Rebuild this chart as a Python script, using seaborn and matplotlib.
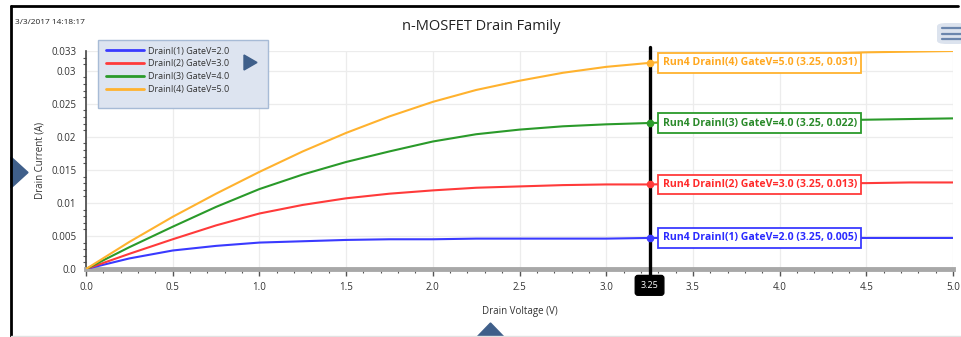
import matplotlib
matplotlib.use("Agg")
import matplotlib.pyplot as plt
from matplotlib.lines import Line2D
from matplotlib.patches import FancyBboxPatch, Polygon
from matplotlib.ticker import FixedLocator, MultipleLocator
import numpy as np
import pandas as pd
import seaborn as sns

# drain voltage sweep (V)
VOLTAGE = [0.0, 0.25, 0.5, 0.75, 1.0, 1.25, 1.5, 1.75, 2.0, 2.25, 2.5,
           2.75, 3.0, 3.25, 3.5, 3.75, 4.0, 4.25, 4.5, 4.75, 5.0]

# drain current (A) for each gate voltage
DRAIN_1 = [0.0, 0.0016, 0.0028, 0.0035, 0.0040, 0.0042, 0.0044, 0.0045, 0.0045, 0.0046, 0.0046,
           0.0046, 0.0046, 0.0047, 0.0047, 0.0047, 0.0047, 0.0047, 0.0047, 0.0047, 0.0047]
DRAIN_2 = [0.0, 0.0023, 0.0045, 0.0066, 0.0084, 0.0097, 0.0107, 0.0114, 0.0119, 0.0123, 0.0125,
           0.0127, 0.0128, 0.0128, 0.0129, 0.0129, 0.0130, 0.0130, 0.0130, 0.0131, 0.0131]
DRAIN_3 = [0.0, 0.0033, 0.0064, 0.0094, 0.0121, 0.0143, 0.0162, 0.0178, 0.0193, 0.0204, 0.0211,
           0.0216, 0.0219, 0.0221, 0.0222, 0.0223, 0.0224, 0.0225, 0.0226, 0.0227, 0.0228]
DRAIN_4 = [0.0, 0.0041, 0.0079, 0.0114, 0.0147, 0.0178, 0.0206, 0.0231, 0.0253, 0.0271, 0.0285,
           0.0297, 0.0306, 0.0312, 0.0317, 0.0321, 0.0324, 0.0326, 0.0328, 0.0329, 0.0330]

SERIES = ["DrainI(1) GateV=2.0", "DrainI(2) GateV=3.0",
          "DrainI(3) GateV=4.0", "DrainI(4) GateV=5.0"]
LINE_COLORS = ["#3a3aff", "#ff3a3a", "#2a9a2a", "#ffb22e"]
TEXT_COLORS = ["#2a2aff", "#ff2a2a", "#2a8a2a", "#ffa820"]

CURSOR_X = 3.25
X_TICKS = [0.0, 0.5, 1.0, 1.5, 2.0, 2.5, 3.0, 3.5, 4.0, 4.5, 5.0]
X_TICK_LABELS = ["0.0", "0.5", "1.0", "1.5", "2.0", "2.5", "3.0", "3.5", "4.0", "4.5", "5.0"]
Y_TICKS = [0.0, 0.005, 0.01, 0.015, 0.02, 0.025, 0.03, 0.033]
Y_TICK_LABELS = ["0.0", "0.005", "0.01", "0.015", "0.02", "0.025", "0.03", "0.033"]

W, H = 961, 337
FONT = ["Open Sans", "DejaVu Sans"]
UI_BLUE = "#3f5f8a"


def px(x, y):
    return (x / W, 1 - y / H)


def main() -> None:
    sns.set_theme(style="white")
    plt.rcParams["font.family"] = FONT

    df = pd.DataFrame({
        "voltage": VOLTAGE * 4,
        "current": DRAIN_1 + DRAIN_2 + DRAIN_3 + DRAIN_4,
        "series": sum([[s] * len(VOLTAGE) for s in SERIES], []),
    })
    palette = dict(zip(SERIES, LINE_COLORS))

    fig = plt.figure(figsize=(W / 100, H / 100), dpi=100)
    ax = fig.add_axes([86 / W, 1 - 269 / H, 867 / W, 218 / H])

    sns.lineplot(data=df, x="voltage", y="current", hue="series",
                 hue_order=SERIES, palette=palette, linewidth=1.5,
                 legend=False, ax=ax, zorder=3)

    ax.set_xlim(0, 5)
    ax.set_ylim(0, 0.033)
    ax.xaxis.set_major_locator(FixedLocator(X_TICKS))
    ax.set_xticklabels(X_TICK_LABELS)
    ax.xaxis.set_minor_locator(MultipleLocator(0.1))
    ax.yaxis.set_major_locator(FixedLocator(Y_TICKS))
    ax.set_yticklabels(Y_TICK_LABELS)
    ax.yaxis.set_minor_locator(MultipleLocator(0.001))
    ax.grid(True, which="major", color="#ececec", linewidth=0.9)
    ax.set_axisbelow(True)

    for side in ["top", "right"]:
        ax.spines[side].set_visible(False)
    ax.spines["left"].set_color("#444444")
    ax.spines["left"].set_linewidth(1.2)
    ax.spines["bottom"].set_color("#a8a8a8")
    ax.spines["bottom"].set_linewidth(3.5)

    ax.tick_params(axis="both", which="both", direction="out", colors="#555555",
                   labelcolor="#333333", labelsize=7)
    ax.tick_params(axis="y", which="major", length=5, width=1, pad=2)
    ax.tick_params(axis="y", which="minor", length=2.5, width=0.8, left=True)
    ax.tick_params(axis="x", which="major", length=5, width=1, pad=4, bottom=True)
    ax.tick_params(axis="x", which="minor", length=3, width=0.8, bottom=True)

    ax.set_xlabel("Drain Voltage (V)", fontsize=7, color="#333333", labelpad=10)
    ax.set_ylabel("Drain Current (A)", fontsize=7, color="#333333", labelpad=4)

    # cursor line, markers and readouts
    ax.axvline(CURSOR_X, color="black", linewidth=2.4, zorder=5,
               ymin=-0.08, ymax=1.02, clip_on=False)
    for name, series, lc, tc in zip(SERIES, [DRAIN_1, DRAIN_2, DRAIN_3, DRAIN_4],
                                    LINE_COLORS, TEXT_COLORS):
        val = float(np.interp(CURSOR_X, VOLTAGE, series))
        ax.plot([CURSOR_X], [val], marker="o", markersize=4.5, color=lc, zorder=6)
        ax.text(CURSOR_X + 0.075, val,
                f"Run4 {name} ({CURSOR_X:.2f}, {val:.3f})",
                color=tc, fontsize=7.6, fontweight="bold", va="center", ha="left",
                zorder=7,
                bbox=dict(boxstyle="square,pad=0.42", facecolor="white",
                          edgecolor=lc, linewidth=1.3))
    ax.text(CURSOR_X, -0.075, "3.25", transform=ax.get_xaxis_transform(),
            color="white", fontsize=6.5, ha="center", va="center", zorder=8,
            bbox=dict(boxstyle="round,pad=0.6,rounding_size=0.3",
                      facecolor="black", edgecolor="black"))

    # legend panel
    panel = FancyBboxPatch(px(98, 108), 170 / W, 68 / H, boxstyle="square,pad=0",
                           transform=fig.transFigure, facecolor="#dde4f0",
                           edgecolor="#a7bbd6", linewidth=1, zorder=10)
    fig.add_artist(panel)
    handles = [Line2D([], [], color=c, linewidth=2) for c in LINE_COLORS]
    leg = fig.legend(handles, SERIES, loc="upper left", bbox_to_anchor=px(102, 43),
                     frameon=False, fontsize=6.5, handlelength=4.2,
                     handletextpad=0.5, labelspacing=0.42, borderaxespad=0)
    leg.set_zorder(11)
    for t in leg.get_texts():
        t.set_color("#333333")
    fig.add_artist(Polygon([px(244, 55), px(244, 70), px(257, 62.5)],
                           closed=True, transform=fig.transFigure,
                           color=UI_BLUE, zorder=12))

    # surrounding widget chrome
    fig.text(*px(481, 27), "n-MOSFET Drain Family", ha="center", va="center",
             fontsize=10.5, color="#222222")
    fig.text(*px(15, 23), "3/3/2017 14:18:17", ha="left", va="center",
             fontsize=6, color="#222222")
    fig.add_artist(Line2D([11 / W, 11 / W], [0, 1 - 6 / H], transform=fig.transFigure,
                          color="black", linewidth=2))
    fig.add_artist(Line2D([11 / W, 958 / W], [1 - 6 / H, 1 - 6 / H],
                          transform=fig.transFigure, color="black", linewidth=2))
    fig.add_artist(Line2D([11 / W, 1], [1 - 336 / H, 1 - 336 / H],
                          transform=fig.transFigure, color="#e2e2e2", linewidth=1))
    fig.add_artist(Polygon([px(11, 157), px(11, 188), px(28, 172.5)], closed=True,
                           transform=fig.transFigure, color=UI_BLUE))
    fig.add_artist(Polygon([px(476, 338), px(505, 338), px(490.5, 323)], closed=True,
                           transform=fig.transFigure, color=UI_BLUE))
    fig.add_artist(FancyBboxPatch(px(937, 44), 30 / W, 21 / H,
                                  boxstyle="round,pad=0,rounding_size=0.01",
                                  transform=fig.transFigure, facecolor="#dce3ee",
                                  edgecolor="none"))
    for yy in (28, 33.5, 39):
        fig.add_artist(Line2D([942 / W, 1], [1 - yy / H] * 2, transform=fig.transFigure,
                              color="#6b86ad", linewidth=1.6))

    fig.savefig("out.png", dpi=100)
    plt.close(fig)


if __name__ == "__main__":
    main()
